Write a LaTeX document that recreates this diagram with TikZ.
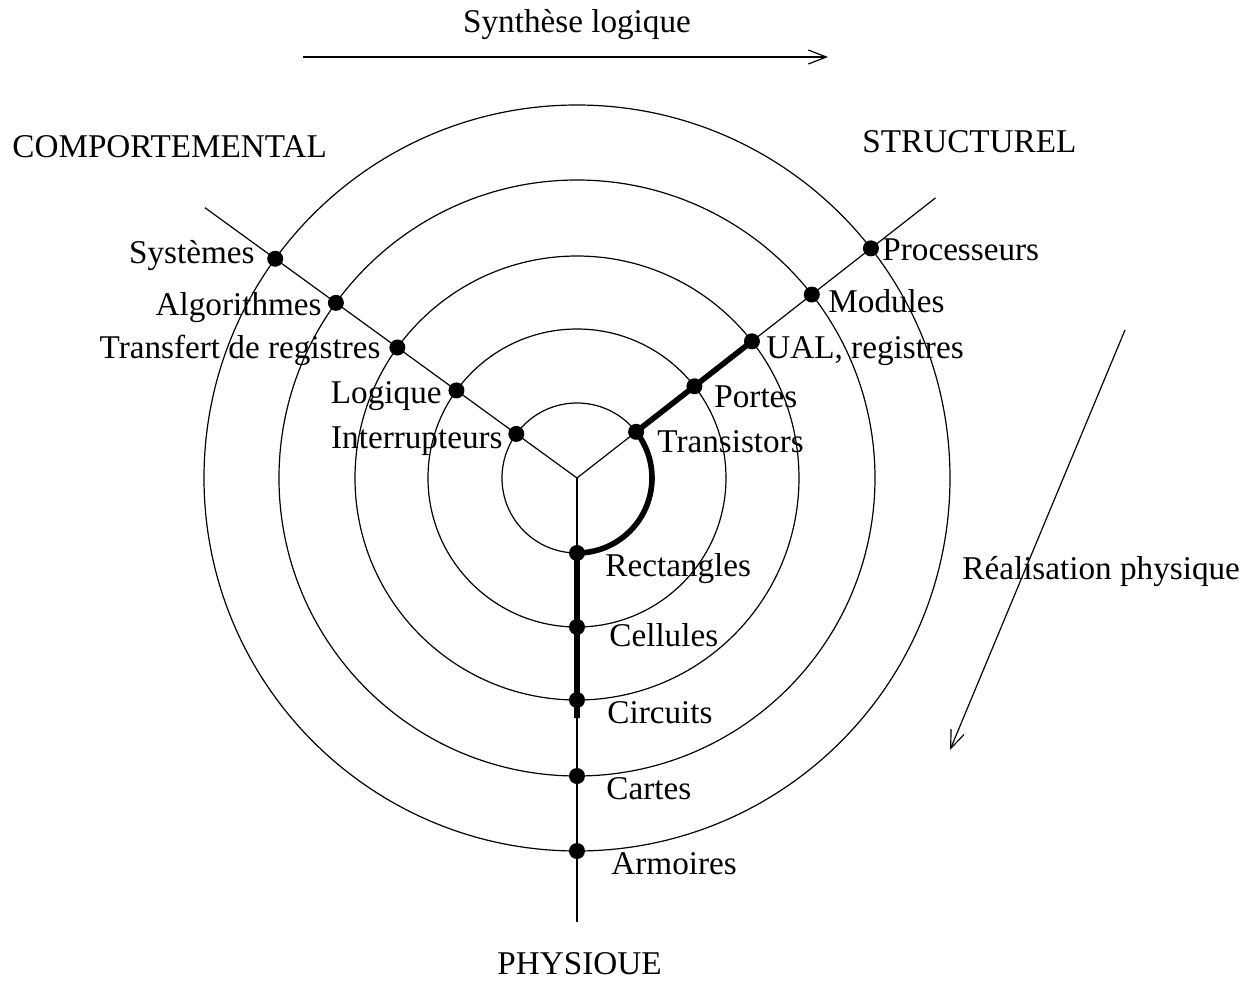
\documentclass[tikz,border=0pt]{standalone}
\usepackage{fontspec}
\setmainfont{Liberation Serif}
\usetikzlibrary{arrows.meta}

\tikzset{
  dot/.style={circle,fill=black,inner sep=0pt,minimum size=8pt},
  lbl/.style={inner sep=0pt,font=\fontsize{16.6}{20}\selectfont},
  axe/.style={line width=0.6pt},
  fleche/.style={line width=0.6pt,-{Straight Barb[length=9pt,width=7pt,line width=0.6pt]}}
}

\begin{document}
\begin{tikzpicture}[x=0.5pt,y=0.5pt]

\useasboundingbox (-577,-503) rectangle (666,478);

% =========================
% CERCLES ET AXES
% =========================

\coordinate (O) at (0,0);
\foreach \r in {75,149,222,298,373}
  \draw[axe] (O) circle[radius=\r];

\coordinate (C) at (144:460);
\coordinate (S) at (38:455);
\coordinate (P) at (270:444);
\draw[axe] (O) -- (C);
\draw[axe] (O) -- (S);
\draw[axe] (O) -- (P);

% =========================
% CHEMIN EPAIS
% =========================

\draw[line width=2.8pt] (38:222) -- (38:75)
  arc[start angle=38,end angle=-90,radius=75] -- (270:240);

% =========================
% POINTS
% =========================

\node[dot] (sys) at (144:373) {};
\node[dot] (alg) at (144:298) {};
\node[dot] (tdr) at (144:222) {};
\node[dot] (log) at (144:149) {};
\node[dot] (int) at (144:75) {};

\node[dot] (pro) at (38:373) {};
\node[dot] (mod) at (38:298) {};
\node[dot] (ual) at (38:222) {};
\node[dot] (por) at (38:149) {};
\node[dot] (tra) at (38:75) {};

\node[dot] (rec) at (270:75) {};
\node[dot] (cel) at (270:149) {};
\node[dot] (cir) at (270:222) {};
\node[dot] (car) at (270:298) {};
\node[dot] (arm) at (270:373) {};

% =========================
% LABELS
% =========================

\node[lbl,anchor=base east] (lsys) at (-322,215) {Systèmes};
\node[lbl,anchor=base east] (lalg) at (-255,163) {Algorithmes};
\node[lbl,anchor=base east] (ltdr) at (-196,120) {Transfert de registres};
\node[lbl,anchor=base east] (llog) at (-135,75) {Logique};
\node[lbl,anchor=base east] (lint) at (-74,30) {Interrupteurs};

\node[lbl,anchor=base west] (lpro) at (305,218) {Processeurs};
\node[lbl,anchor=base west] (lmod) at (251,166) {Modules};
\node[lbl,anchor=base west] (lual) at (189,120) {UAL, registres};
\node[lbl,anchor=base west] (lpor) at (137,71) {Portes};
\node[lbl,anchor=base west] (ltra) at (80,26) {Transistors};

\node[lbl,anchor=base west] (lrec) at (28,-98) {Rectangles};
\node[lbl,anchor=base west] (lcel) at (32,-168) {Cellules};
\node[lbl,anchor=base west] (lcir) at (30,-245) {Circuits};
\node[lbl,anchor=base west] (lcar) at (29,-321) {Cartes};
\node[lbl,anchor=base west] (larm) at (34,-396) {Armoires};

\node[lbl,anchor=base west] (comp) at (-565,321) {COMPORTEMENTAL};
\node[lbl,anchor=base west] (stru) at (285,326) {STRUCTUREL};
\node[lbl,anchor=base west] (phys) at (-80,-496) {PHYSIOUE};

% =========================
% FLECHES
% =========================

\node[lbl,anchor=base] (synth) at (0,445) {Synthèse logique};
\coordinate (s1) at (-274,421);
\coordinate (s2) at (251,421);
\draw[fleche] (s1) -- (s2);

\node[lbl,anchor=base west] (real) at (385,-101) {Réalisation physique};
\coordinate (r1) at (548,148);
\coordinate (r2) at (373,-272);
\draw[fleche] (r1) -- (r2);

\end{tikzpicture}
\end{document}
